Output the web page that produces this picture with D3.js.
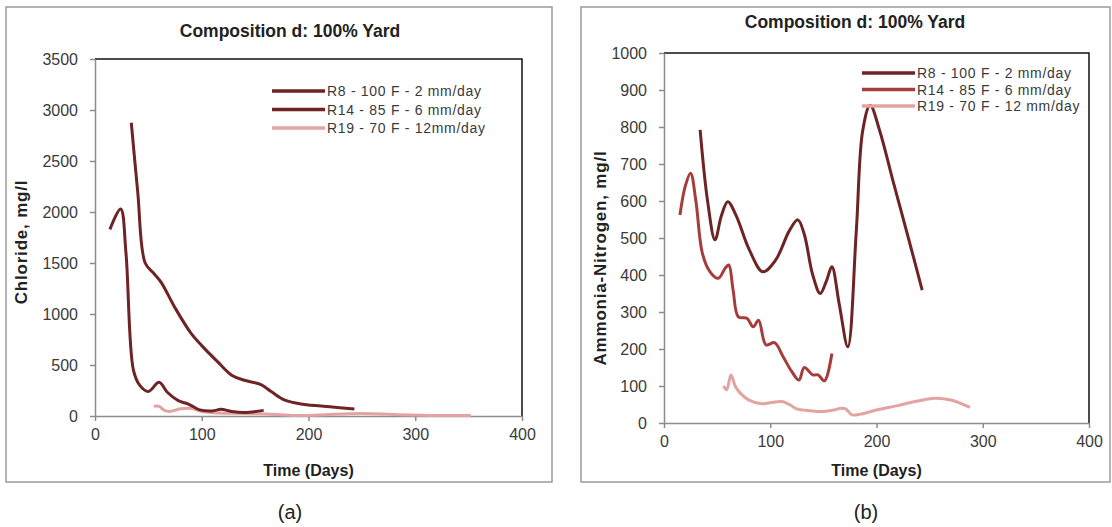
<!DOCTYPE html>
<html>
<head>
<meta charset="utf-8">
<script src="https://cdn.jsdelivr.net/npm/d3@7"></script>
<style>
	body { margin: 0; background: #fff; }
	text { font-family: "Liberation Sans", Arial, sans-serif; }
</style>
</head>
<body>
<div id="chart"></div>
<script>
// series names
const seriesNames = ['R8 - 100 F - 2 mm/day', 'R14 - 85 F - 6 mm/day', 'R19 - 70 F - 12mm/day']
const seriesNamesB = ['R8 - 100 F - 2 mm/day', 'R14 - 85 F - 6 mm/day', 'R19 - 70 F - 12 mm/day']

// (a) chloride, [day, mg/l]
const chlorideR8 = [[34, 2875], [40, 2200], [47, 1500], [55, 1400], [62, 1310], [75, 1060], [90, 810], [100, 690], [115, 530], [128, 400], [140, 350], [155, 310], [165, 240], [178, 155], [195, 115], [220, 90], [243, 68]]
const chlorideR14 = [[14, 1830], [24, 2030], [29, 1600], [36, 450], [42, 300], [50, 240], [60, 330], [68, 230], [78, 150], [88, 115], [98, 60], [110, 50], [118, 65], [128, 45], [140, 35], [158, 55]]
const chlorideR19 = [[55, 95], [60, 95], [65, 55], [70, 45], [80, 70], [90, 75], [100, 45], [115, 30], [140, 25], [170, 15], [190, 5], [210, 10], [250, 25], [280, 15], [320, 5], [352, 5]]

// (b) ammonia-nitrogen, [day, mg/l]
const nh3R8 = [[34, 792], [41, 600], [48, 495], [54, 560], [60, 598], [68, 560], [80, 470], [93, 409], [105, 440], [118, 520], [126, 549], [132, 510], [140, 400], [147, 350], [153, 385], [158, 422], [165, 320], [173, 206], [181, 520], [187, 790], [194, 859], [203, 790], [215, 660], [230, 500], [243, 359]]
const nh3R14 = [[15, 562], [20, 640], [25, 675], [30, 600], [36, 460], [43, 410], [51, 391], [58, 420], [61, 427], [65, 360], [70, 287], [78, 283], [84, 260], [89, 278], [96, 211], [104, 217], [112, 180], [120, 140], [127, 116], [132, 150], [140, 130], [145, 130], [151, 114], [158, 188]]
const nh3R19 = [[56, 100], [59, 90], [63, 130], [67, 100], [72, 80], [80, 62], [92, 52], [100, 55], [111, 58], [118, 50], [125, 38], [138, 33], [150, 31], [160, 35], [167, 40], [171, 38], [177, 22], [185, 24], [200, 35], [220, 47], [240, 60], [255, 67], [270, 62], [288, 42]]

const xTicks = [0, 100, 200, 300, 400]
const yTicksA = [0, 500, 1000, 1500, 2000, 2500, 3000, 3500]
const yTicksB = [0, 100, 200, 300, 400, 500, 600, 700, 800, 900, 1000]

const svg = d3.select('#chart')
	.append('svg')
	.attr('width', 1112)
	.attr('height', 527)

function drawPanel(opt) {
	const g = svg.append('g')

	// outer frame
	g.append('rect')
		.attr('x', opt.frame[0])
		.attr('y', opt.frame[1])
		.attr('width', opt.frame[2])
		.attr('height', opt.frame[3])
		.attr('fill', 'none')
		.attr('stroke', '#9a9a9a')
		.attr('stroke-width', 1.5)

	const xScale = d3.scaleLinear().domain([0, 400]).range([opt.left, opt.right])
	const yScale = d3.scaleLinear().domain([0, opt.yMax]).range([opt.bottom, opt.top])

	// top and right border
	g.append('path')
		.attr('d', 'M' + opt.left + ',' + opt.top + 'H' + opt.right + 'V' + opt.bottom)
		.attr('fill', 'none')
		.attr('stroke', '#111')
		.attr('stroke-width', 1.5)

	const xAxis = g.append('g')
		.attr('transform', 'translate(0,' + opt.bottom + ')')
		.call(d3.axisBottom(xScale).tickValues(xTicks).tickFormat(d3.format('d')).tickSize(5).tickSizeOuter(0))
	const yAxis = g.append('g')
		.attr('transform', 'translate(' + opt.left + ',0)')
		.call(d3.axisLeft(yScale).tickValues(opt.yTicks).tickFormat(d3.format('d')).tickSize(5).tickSizeOuter(0))

	for (const ax of [xAxis, yAxis]) {
		ax.select('.domain').attr('stroke', '#8c8c8c').attr('stroke-width', 1.5)
		ax.selectAll('.tick line').attr('stroke', '#8c8c8c').attr('stroke-width', 1.5)
		ax.selectAll('.tick text')
			.attr('fill', '#3a3a3a')
			.style('font-size', '16px')
			.style('font-family', '"Liberation Sans", Arial, sans-serif')
	}
	xAxis.selectAll('.tick text').attr('dy', '0.71em').attr('y', 13)
	yAxis.selectAll('.tick text').attr('x', -17)

	const line = d3.line()
		.x(d => xScale(d[0]))
		.y(d => yScale(d[1]))
		.curve(d3.curveCatmullRom.alpha(0.5))

	// draw light series first so dark ones sit on top
	for (let i = opt.series.length - 1; i >= 0; i--) {
		g.append('path')
			.datum(opt.series[i])
			.attr('d', line)
			.attr('fill', 'none')
			.attr('stroke', opt.colors[i])
			.attr('stroke-width', 3)
			.attr('stroke-linejoin', 'round')
	}

	// legend
	for (let i = 0; i < opt.names.length; i++) {
		const ly = opt.legend[1] + i * opt.legend[2]
		g.append('line')
			.attr('x1', opt.legend[0])
			.attr('x2', opt.legend[0] + 53)
			.attr('y1', ly)
			.attr('y2', ly)
			.attr('stroke', opt.colors[i])
			.attr('stroke-width', 3.5)
		g.append('text')
			.attr('x', opt.legend[0] + 55)
			.attr('y', ly + 5)
			.attr('fill', '#3a3a3a')
			.style('font-size', '14px')
			.style('letter-spacing', '0.7px')
			.text(opt.names[i])
	}

	// title
	g.append('text')
		.attr('x', opt.titlePos[0])
		.attr('y', opt.titlePos[1])
		.attr('text-anchor', 'middle')
		.attr('fill', '#222')
		.style('font-size', '17.5px')
		.style('font-weight', 'bold')
		.text('Composition d: 100% Yard')

	g.append('text')
		.attr('x', (opt.left + opt.right) / 2)
		.attr('y', opt.xTitleY)
		.attr('text-anchor', 'middle')
		.attr('fill', '#222')
		.style('font-size', '16px')
		.style('font-weight', 'bold')
		.text('Time (Days)')

	g.append('text')
		.attr('transform', 'translate(' + opt.yTitle[0] + ',' + opt.yTitle[1] + ') rotate(-90)')
		.attr('text-anchor', 'middle')
		.attr('fill', '#222')
		.style('font-size', '17px')
		.style('font-weight', 'bold')
		.style('letter-spacing', '0.8px')
		.text(opt.yLabel)

	g.append('text')
		.attr('x', opt.caption[0])
		.attr('y', opt.caption[1])
		.attr('text-anchor', 'middle')
		.attr('fill', '#222')
		.style('font-size', '20px')
		.text(opt.captionText)
}

drawPanel({
	frame: [6, 7, 546, 475],
	left: 95, right: 522, top: 59, bottom: 416,
	yMax: 3500, yTicks: yTicksA,
	series: [chlorideR8, chlorideR14, chlorideR19],
	colors: ['#6e2424', '#6e2424', '#e4a3a3'],
	names: seriesNames,
	legend: [272, 91, 18.5],
	titlePos: [290, 37],
	xTitleY: 476,
	yTitle: [27, 242],
	yLabel: 'Chloride, mg/l',
	caption: [290, 519],
	captionText: '(a)'
})

drawPanel({
	frame: [581, 7, 529, 475],
	left: 664, right: 1089, top: 53, bottom: 423,
	yMax: 1000, yTicks: yTicksB,
	series: [nh3R8, nh3R14, nh3R19],
	colors: ['#6e2424', '#a63c3c', '#e4a3a3'],
	names: seriesNamesB,
	legend: [862, 73, 16.5],
	titlePos: [855, 28],
	xTitleY: 476,
	yTitle: [606, 258],
	yLabel: 'Ammonia-Nitrogen, mg/l',
	caption: [866, 519],
	captionText: '(b)'
})
</script>
</body>
</html>
